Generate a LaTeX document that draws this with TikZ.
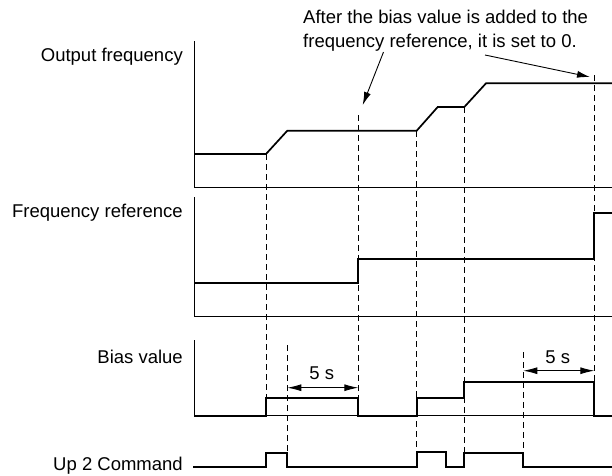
\documentclass[tikz,border=0pt]{standalone}
\usepackage{fontspec}
\setmainfont{Liberation Sans}
\usetikzlibrary{arrows.meta}
\begin{document}
\begin{tikzpicture}[x=1pt,y=-1pt,
  axisline/.style={line width=0.9pt, line cap=rect},
  signal/.style={line width=1.7pt, line join=miter},
  guide/.style={line width=0.9pt, dash pattern=on 6pt off 4pt},
  callout/.style={line width=0.9pt, -{Latex[length=13pt,width=7pt]}},
  span/.style={line width=0.9pt, {Latex[length=14pt,width=7pt]}-{Latex[length=14pt,width=7pt]}},
  lbl/.style={font=\fontsize{18.5pt}{24pt}\selectfont, inner sep=0pt},
  ]
\useasboundingbox (0,0) rectangle (612,475);

% labels
\node[lbl, anchor=east] (lof) at (183,57) {Output frequency};
\node[lbl, anchor=east] (lfr) at (183,213) {Frequency reference};
\node[lbl, anchor=east] (lbv) at (183,357) {Bias value};
\node[lbl, anchor=east] (lup) at (183,466) {Up 2 Command};
\node[lbl, anchor=north west, align=left] (note) at (303,9.5)
  {After the bias value is added to the\\frequency reference, it is set to 0.};

% axes
\draw[axisline] (194,41) -- (194,187.7) -- (612,187.7);
\draw[axisline] (194,197) -- (194,316.7) -- (612,316.7);
\draw[axisline] (194,340) -- (194,415.7) -- (612,415.7);

% dashed guides
\draw[guide] (266,154) -- (266,398);
\draw[guide] (287.3,345) -- (287.3,453);
\draw[guide] (358.3,115) -- (358.3,398);
\draw[guide] (416.7,131) -- (416.7,452);
\draw[guide] (464.3,107) -- (464.3,452);
\draw[guide] (523.3,352) -- (523.3,453);
\draw[guide] (594.3,75) -- (594.3,382);

% output frequency
\draw[signal] (194,154) -- (266,154) -- (287.3,130.7) -- (416.7,130.7)
  -- (437.7,107) -- (464.3,107) -- (486,83.3) -- (612,83.3);

% frequency reference
\draw[signal] (194,283.3) -- (358.3,283.3) -- (358.3,259.3) -- (594.3,259.3)
  -- (594.3,212.7) -- (612,212.7);

% bias value
\draw[signal] (194,415.7) -- (266,415.7) -- (266,398.3) -- (358.3,398.3)
  -- (358.3,415.7) -- (416.7,415.7) -- (416.7,398.3) -- (464.3,398.3)
  -- (464.3,381.7) -- (594.3,381.7) -- (594.3,415.7) -- (612,415.7);

% up 2 command
\draw[signal] (193,466.7) -- (266,466.7) -- (266,453.3) -- (287.3,453.3)
  -- (287.3,466.7) -- (416.7,466.7) -- (416.7,452.3) -- (445.7,452.3)
  -- (445.7,466.7) -- (464.3,466.7) -- (464.3,453.3) -- (523.3,453.3)
  -- (523.3,466.7) -- (612,466.7);

% 5 s spans
\coordinate (s1a) at (287.3,387.7);
\coordinate (s1b) at (358.3,387.7);
\draw[span] (s1a) -- (s1b);
\node[lbl] (t1) at (321.7,373) {5 s};
\coordinate (s2a) at (523.3,370.7);
\coordinate (s2b) at (594.3,370.7);
\draw[span] (s2a) -- (s2b);
\node[lbl] (t2) at (557.7,357) {5 s};

% callouts
\coordinate (c1a) at (383.5,52);
\coordinate (c1b) at (362.7,105);
\draw[callout] (c1a) -- (c1b);
\coordinate (c2a) at (485,55);
\coordinate (c2b) at (590,77);
\draw[callout] (c2a) -- (c2b);
\end{tikzpicture}
\end{document}
